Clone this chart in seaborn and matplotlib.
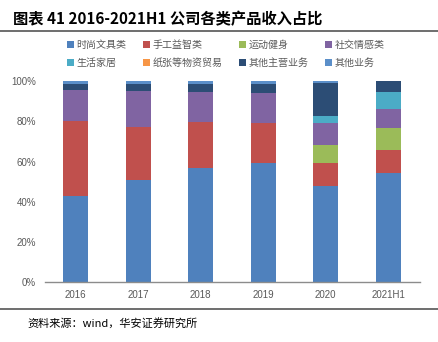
import matplotlib
matplotlib.use("Agg")
import matplotlib.pyplot as plt
import seaborn as sns
import numpy as np
import pandas as pd
from matplotlib.patches import Patch
from matplotlib.ticker import PercentFormatter

years = ["2016", "2017", "2018", "2019", "2020", "2021H1"]
categories = ["时尚文具类", "手工益智类", "运动健身", "社交情感类",
              "生活家居", "纸张等物资贸易", "其他主营业务", "其他业务"]
fashion = [42.8, 50.8, 56.8, 59.3, 47.7, 54.1]
handcraft = [37.2, 26.4, 23.1, 19.8, 11.8, 11.8]
sports = [0.0, 0.0, 0.0, 0.0, 8.9, 11.0]
social = [15.7, 18.0, 14.9, 15.2, 10.8, 9.3]
home = [0.0, 0.0, 0.0, 0.0, 3.7, 8.5]
paper = [0.0, 0.0, 0.0, 0.0, 0.0, 0.0]
other_main = [3.0, 3.5, 3.9, 4.5, 16.1, 5.3]
other = [1.3, 1.3, 1.3, 1.2, 1.0, 0.0]
series = [fashion, handcraft, sports, social, home, paper, other_main, other]
colors = ["#4F81BD", "#C0504D", "#9BBB59", "#8064A2",
          "#4BACC6", "#F79646", "#2C4D75", "#5B8FC9"]

sns.set_style("white")
plt.rcParams['font.family'] = ['Noto Sans CJK SC', 'DejaVu Sans']

fig = plt.figure(figsize=(4.38, 3.42), dpi=100)
ax = fig.add_axes([0.1016, 0.1754, 0.8562, 0.5869])

bottom = np.zeros(len(years))
for name, vals, c in zip(categories, series, colors):
    v = np.array(vals) / 100.0
    df = pd.DataFrame({"year": years, "share": v})
    sns.barplot(data=df, x="year", y="share", bottom=bottom, color=c,
                width=0.4, ax=ax, saturation=1, edgecolor="none", linewidth=0)
    bottom = bottom + v

ax.set_xlim(-0.5, 5.5)
ax.set_ylim(0, 1.0)
ax.set_yticks(np.arange(0, 1.01, 0.2))
ax.yaxis.set_major_formatter(PercentFormatter(1.0, decimals=0))
ax.set_xlabel("")
ax.set_ylabel("")
for s in ["top", "right", "left"]:
    ax.spines[s].set_visible(False)
ax.spines["bottom"].set_color("#8C8C8C")
ax.spines["bottom"].set_linewidth(1.0)
ax.tick_params(axis="both", length=0, labelsize=7, colors="#595959",
               labelfontfamily="Liberation Sans")
ax.tick_params(axis="x", pad=6)
ax.tick_params(axis="y", pad=6)

handles = [Patch(facecolor=c, edgecolor="none") for c in colors]
order = [0, 4, 1, 5, 2, 6, 3, 7]
fig.legend([handles[i] for i in order], [categories[i] for i in order],
           loc="center", ncol=4,
           bbox_to_anchor=(0.515, 0.842), frameon=False, fontsize=7.2,
           handlelength=0.7, handleheight=0.7, handletextpad=0.3,
           columnspacing=1.6, labelspacing=0.75, labelcolor="#595959")

fig.text(0.03, 0.944, "图表 41 2016-2021H1 公司各类产品收入占比", fontsize=11,
         fontweight="bold", va="center", ha="left", color="#000000")
fig.add_artist(plt.Line2D([0, 1], [0.908, 0.908], color="#555555", lw=1.2))
fig.add_artist(plt.Line2D([0, 1], [0.096, 0.096], color="#555555", lw=1.2))
fig.text(0.062, 0.056, "资料来源：wind，华安证券研究所", fontsize=8,
         va="center", ha="left", color="#000000")

fig.savefig("out.png", dpi=100)
